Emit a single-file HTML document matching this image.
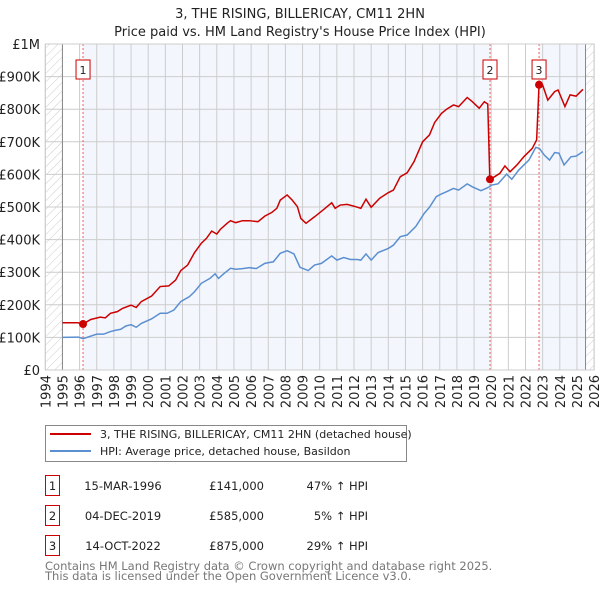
<!DOCTYPE html>
<html><head><meta charset="utf-8"><style>
body{margin:0;background:#fff;font-family:"Liberation Sans","DejaVu Sans",sans-serif;}
svg text{font-family:"DejaVu Sans","Liberation Sans",sans-serif;}
</style></head><body>
<svg id="c" width="600" height="590" xmlns="http://www.w3.org/2000/svg">
<defs><pattern id="hatch" width="6" height="6" patternUnits="userSpaceOnUse" patternTransform="rotate(45)"><line x1="0" y1="0" x2="0" y2="6" stroke="#ccc" stroke-width="1"/></pattern></defs>
<text x="300" y="18" text-anchor="middle" font-size="13" fill="#222">3, THE RISING, BILLERICAY, CM11 2HN</text>
<text x="300" y="36" text-anchor="middle" font-size="13" fill="#222">Price paid vs. HM Land Registry's House Price Index (HPI)</text>
<g id="plot"></g>
<rect x="45.5" y="425.5" width="361" height="36" fill="#fff" stroke="#888"/>
<line x1="50" y1="434" x2="91" y2="434" stroke="#cc0000" stroke-width="2"/>
<text x="100" y="438" font-size="11" fill="#222">3, THE RISING, BILLERICAY, CM11 2HN (detached house)</text>
<line x1="50" y1="451" x2="91" y2="451" stroke="#5b8fd0" stroke-width="2"/>
<text x="100" y="455" font-size="11" fill="#222">HPI: Average price, detached house, Basildon</text>
<g font-size="11.5" fill="#222">
<rect x="45.5" y="475.5" width="14" height="20" fill="#fff" stroke="#cc0000"/><text x="52.5" y="490" text-anchor="middle">1</text>
<text x="123" y="490" text-anchor="middle">15-MAR-1996</text><text x="264" y="490" text-anchor="end">£141,000</text><text x="368" y="490" text-anchor="end">47% ↑ HPI</text>
<rect x="45.5" y="505.5" width="14" height="20" fill="#fff" stroke="#cc0000"/><text x="52.5" y="520" text-anchor="middle">2</text>
<text x="123" y="520" text-anchor="middle">04-DEC-2019</text><text x="264" y="520" text-anchor="end">£585,000</text><text x="368" y="520" text-anchor="end">5% ↑ HPI</text>
<rect x="45.5" y="535.5" width="14" height="20" fill="#fff" stroke="#cc0000"/><text x="52.5" y="550" text-anchor="middle">3</text>
<text x="123" y="550" text-anchor="middle">14-OCT-2022</text><text x="264" y="550" text-anchor="end">£875,000</text><text x="368" y="550" text-anchor="end">29% ↑ HPI</text>
</g>
<text x="45" y="570" font-size="11.5" fill="#777">Contains HM Land Registry data © Crown copyright and database right 2025.</text>
<text x="45" y="580" font-size="11.5" fill="#777">This data is licensed under the Open Government Licence v3.0.</text>
</svg>
<script>
const hpiYears=[1995.0,1995.93,1996.2,1997.0,1997.4,1997.8,1998.1,1998.4,1998.7,1999.0,1999.3,1999.6,2000.2,2000.7,2001.1,2001.5,2001.9,2002.4,2002.7,2003.1,2003.6,2003.9,2004.1,2004.4,2004.8,2005.1,2005.5,2005.9,2006.3,2006.8,2007.3,2007.7,2008.1,2008.5,2008.85,2009.33,2009.7,2010.1,2010.7,2011.0,2011.4,2011.8,2012.2,2012.4,2012.7,2013.0,2013.4,2014.0,2014.3,2014.7,2015.1,2015.6,2016.1,2016.4,2016.8,2017.1,2017.4,2017.8,2018.1,2018.6,2018.9,2019.4,2019.7,2019.9,2020.0,2020.4,2020.9,2021.2,2021.6,2022.2,2022.6,2022.8,2023.1,2023.4,2023.7,2023.95,2024.25,2024.65,2024.95,2025.35];
const hpiValues=[100,101,96,110,110,118,122,125,135,139,131,143,157,174,174,184,210,225,240,266,281,295,281,295,312,309,311,314,311,327,332,358,366,356,315,305,322,327,350,337,345,339,339,337,356,337,360,373,383,409,414,440,481,499,532,540,547,557,552,571,562,550,557,562,567,571,601,585,613,644,683,680,659,644,667,665,629,654,656,670];
const propYears=[1995.0,1995.9,1996.2,1996.65,1997.2,1997.5,1997.8,1998.2,1998.5,1999.0,1999.3,1999.6,2000.2,2000.7,2001.2,2001.6,2001.9,2002.3,2002.7,2003.1,2003.4,2003.7,2004.0,2004.2,2004.6,2004.8,2005.1,2005.5,2005.9,2006.4,2006.8,2007.2,2007.5,2007.7,2008.1,2008.4,2008.7,2008.9,2009.2,2009.7,2010.2,2010.7,2010.9,2011.2,2011.6,2012.1,2012.4,2012.7,2013.0,2013.5,2014.0,2014.3,2014.7,2015.1,2015.5,2016.0,2016.4,2016.7,2017.1,2017.4,2017.8,2018.1,2018.6,2018.9,2019.3,2019.6,2019.8,2019.92,2020.2,2020.5,2020.8,2021.1,2021.5,2021.9,2022.4,2022.65,2022.79,2023.0,2023.3,2023.7,2023.9,2024.3,2024.6,2024.95,2025.35];
const propValues=[145,145,141,155,162,160,174,179,189,199,192,210,227,256,258,276,305,322,360,389,404,426,417,431,450,458,452,458,458,455,472,483,496,521,537,521,501,465,450,470,491,513,496,506,508,501,496,524,499,527,544,552,593,605,639,700,721,759,787,800,813,808,836,823,803,823,816,585,593,603,626,608,629,654,680,706,875,874,828,854,859,808,844,840,861];
const saleYears=[1996.2,2019.93,2022.79];
const salePrices=[141,585,875];
const saleLabels=["1","2","3"];
const yTicks=[0,100,200,300,400,500,600,700,800,900,1000];
const yTickLabels=["£0","£100K","£200K","£300K","£400K","£500K","£600K","£700K","£800K","£900K","£1M"];
const xTicks=[1994,1995,1996,1997,1998,1999,2000,2001,2002,2003,2004,2005,2006,2007,2008,2009,2010,2011,2012,2013,2014,2015,2016,2017,2018,2019,2020,2021,2022,2023,2024,2025,2026];

const X=y=>45.3+(y-1994)*17.15;
const Y=v=>370-v*0.326;
const NS="http://www.w3.org/2000/svg";
const g=document.getElementById('plot');
function mk(t,a){const e=document.createElementNS(NS,t);for(const k in a)e.setAttribute(k,a[k]);g.appendChild(e);return e;}
let e;
e=mk('rect',{x:X(1994),y:Y(1000),width:X(2026)-X(1994),height:Y(0)-Y(1000),fill:'#fff'});


e=mk('rect',{x:X(1994),y:Y(1000),width:X(1995)-X(1994),height:Y(0)-Y(1000),fill:'url(#hatch)'});


e=mk('rect',{x:X(2025.5),y:Y(1000),width:X(2026)-X(2025.5),height:Y(0)-Y(1000),fill:'url(#hatch)'});


e=mk('rect',{x:X(saleYears[0]),y:Y(1000),width:X(saleYears[1])-X(saleYears[0]),height:Y(0)-Y(1000),fill:'#eef3fc',opacity:0.7});


e=mk('rect',{x:X(saleYears[2]),y:Y(1000),width:X(2025.5)-X(saleYears[2]),height:Y(0)-Y(1000),fill:'#eef3fc',opacity:0.7});


yTicks.forEach((v,i)=>{
 e=mk('line',{x1:X(1994),x2:X(2026),y1:Y(v),y2:Y(v),stroke:'#ccc'});
 
 
 e=mk('text',{x:40,y:Y(v)+5,'text-anchor':'end','font-size':13,fill:'#222'});e.textContent=yTickLabels[i];
 
 
});
xTicks.forEach(t=>{
 e=mk('line',{x1:X(t),x2:X(t),y1:Y(1000),y2:Y(0),stroke:'#ccc'});
 
 
 e=mk('text',{x:0,y:0,'text-anchor':'end','font-size':13,fill:'#222',transform:`translate(${X(t)+5},375) rotate(-90)`});e.textContent=t;
 
 
});
e=mk('line',{x1:X(1995),x2:X(1995),y1:Y(1000),y2:Y(0),stroke:'#888'});


e=mk('line',{x1:X(2025.5),x2:X(2025.5),y1:Y(1000),y2:Y(0),stroke:'#888'});


saleYears.forEach((s,i)=>{
 e=mk('line',{x1:X(s),x2:X(s),y1:Y(1000),y2:Y(0),stroke:'#f06060','stroke-dasharray':'2,2'});
 
 
 e=mk('rect',{x:X(s)-7,y:60,width:14,height:19,fill:'#fff',stroke:'#cc0000'});
 
 
 e=mk('text',{x:X(s),y:74,'text-anchor':'middle','font-size':11,fill:'#222'});e.textContent=saleLabels[i];
 
 
});
e=mk('polyline',{points:hpiYears.map((y,i)=>X(y)+','+Y(hpiValues[i])).join(' '),fill:'none',stroke:'#5b8fd0','stroke-width':1.5});


e=mk('polyline',{points:propYears.map((y,i)=>X(y)+','+Y(propValues[i])).join(' '),fill:'none',stroke:'#cc0000','stroke-width':1.5});


saleYears.forEach((s,i)=>{
 e=mk('circle',{cx:X(s),cy:Y(salePrices[i]),r:4,fill:'#cc0000'});
 
 
});
e=mk('rect',{x:X(1994),y:Y(1000),width:X(2026)-X(1994),height:Y(0)-Y(1000),fill:'none',stroke:'#ccc'});


</script>
</body></html>
